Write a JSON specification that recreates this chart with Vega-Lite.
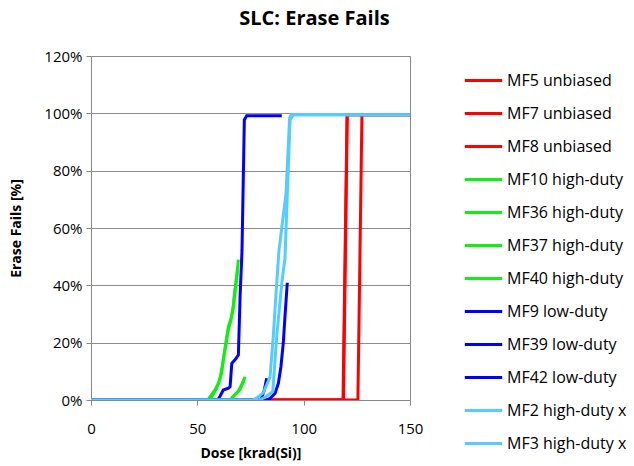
{
  "$schema": "https://vega.github.io/schema/vega-lite/v6.json",
  "width": 319,
  "height": 344,
  "autosize": {"type": "none"},
  "padding": {"left": 91, "top": 56, "right": 224, "bottom": 66},
  "background": "white",
  "title": {
    "text": "SLC: Erase  Fails",
    "font": "Open Sans",
    "fontSize": 20,
    "fontWeight": "bold",
    "color": "#000000",
    "anchor": "middle",
    "frame": "group",
    "dx": 64,
    "offset": 20
  },
  "data": {
    "values": [
      {"s": "MF5 unbiased", "d": 0, "p": 0}, {"s": "MF5 unbiased", "d": 118.5, "p": 0}, {"s": "MF5 unbiased", "d": 120.4, "p": 0.995}, {"s": "MF5 unbiased", "d": 150, "p": 0.995},
      {"s": "MF7 unbiased", "d": 0, "p": 0}, {"s": "MF7 unbiased", "d": 125.5, "p": 0}, {"s": "MF7 unbiased", "d": 127.4, "p": 0.995}, {"s": "MF7 unbiased", "d": 150, "p": 0.995},
      {"s": "MF8 unbiased", "d": 0, "p": 0}, {"s": "MF8 unbiased", "d": 118.7, "p": 0}, {"s": "MF8 unbiased", "d": 120.5, "p": 0.995}, {"s": "MF8 unbiased", "d": 150, "p": 0.995},
      {"s": "MF10 high-duty", "d": 0, "p": 0}, {"s": "MF10 high-duty", "d": 55, "p": 0}, {"s": "MF10 high-duty", "d": 56, "p": 0.012}, {"s": "MF10 high-duty", "d": 58.3, "p": 0.035}, {"s": "MF10 high-duty", "d": 59.9, "p": 0.058}, {"s": "MF10 high-duty", "d": 61.4, "p": 0.093}, {"s": "MF10 high-duty", "d": 62.2, "p": 0.14}, {"s": "MF10 high-duty", "d": 63.8, "p": 0.21}, {"s": "MF10 high-duty", "d": 64.6, "p": 0.256}, {"s": "MF10 high-duty", "d": 66.1, "p": 0.29}, {"s": "MF10 high-duty", "d": 66.9, "p": 0.325}, {"s": "MF10 high-duty", "d": 67.7, "p": 0.384}, {"s": "MF10 high-duty", "d": 68.5, "p": 0.43}, {"s": "MF10 high-duty", "d": 69.3, "p": 0.49},
      {"s": "MF36 high-duty", "d": 0, "p": 0}, {"s": "MF36 high-duty", "d": 56, "p": 0}, {"s": "MF36 high-duty", "d": 57, "p": 0.015}, {"s": "MF36 high-duty", "d": 59, "p": 0.04}, {"s": "MF36 high-duty", "d": 60.5, "p": 0.07}, {"s": "MF36 high-duty", "d": 61.8, "p": 0.12}, {"s": "MF36 high-duty", "d": 63, "p": 0.18}, {"s": "MF36 high-duty", "d": 64.2, "p": 0.235}, {"s": "MF36 high-duty", "d": 65.5, "p": 0.27}, {"s": "MF36 high-duty", "d": 66.6, "p": 0.31}, {"s": "MF36 high-duty", "d": 67.4, "p": 0.36}, {"s": "MF36 high-duty", "d": 68.2, "p": 0.41}, {"s": "MF36 high-duty", "d": 68.9, "p": 0.455},
      {"s": "MF37 high-duty", "d": 0, "p": 0}, {"s": "MF37 high-duty", "d": 66, "p": 0}, {"s": "MF37 high-duty", "d": 66.9, "p": 0.012}, {"s": "MF37 high-duty", "d": 70, "p": 0.035}, {"s": "MF37 high-duty", "d": 71.6, "p": 0.064}, {"s": "MF37 high-duty", "d": 72.4, "p": 0.081},
      {"s": "MF40 high-duty", "d": 0, "p": 0}, {"s": "MF40 high-duty", "d": 65.5, "p": 0}, {"s": "MF40 high-duty", "d": 66.5, "p": 0.01}, {"s": "MF40 high-duty", "d": 69.2, "p": 0.03}, {"s": "MF40 high-duty", "d": 71, "p": 0.055}, {"s": "MF40 high-duty", "d": 72, "p": 0.072},
      {"s": "MF9 low-duty", "d": 0, "p": 0}, {"s": "MF9 low-duty", "d": 59.5, "p": 0}, {"s": "MF9 low-duty", "d": 60.6, "p": 0.012}, {"s": "MF9 low-duty", "d": 62.2, "p": 0.035}, {"s": "MF9 low-duty", "d": 64.6, "p": 0.041}, {"s": "MF9 low-duty", "d": 65.4, "p": 0.046}, {"s": "MF9 low-duty", "d": 66.2, "p": 0.128}, {"s": "MF9 low-duty", "d": 67.7, "p": 0.14}, {"s": "MF9 low-duty", "d": 69.3, "p": 0.157}, {"s": "MF9 low-duty", "d": 70.1, "p": 0.36}, {"s": "MF9 low-duty", "d": 71, "p": 0.52}, {"s": "MF9 low-duty", "d": 72.1, "p": 0.977}, {"s": "MF9 low-duty", "d": 73.2, "p": 0.992}, {"s": "MF9 low-duty", "d": 89.7, "p": 0.992},
      {"s": "MF39 low-duty", "d": 0, "p": 0}, {"s": "MF39 low-duty", "d": 82.5, "p": 0}, {"s": "MF39 low-duty", "d": 84.2, "p": 0.006}, {"s": "MF39 low-duty", "d": 86.5, "p": 0.023}, {"s": "MF39 low-duty", "d": 88.1, "p": 0.058}, {"s": "MF39 low-duty", "d": 89.3, "p": 0.116}, {"s": "MF39 low-duty", "d": 90.4, "p": 0.198}, {"s": "MF39 low-duty", "d": 91.2, "p": 0.29}, {"s": "MF39 low-duty", "d": 92.3, "p": 0.409},
      {"s": "MF42 low-duty", "d": 0, "p": 0}, {"s": "MF42 low-duty", "d": 79.5, "p": 0}, {"s": "MF42 low-duty", "d": 80.2, "p": 0.006}, {"s": "MF42 low-duty", "d": 81.5, "p": 0.035}, {"s": "MF42 low-duty", "d": 82.6, "p": 0.076},
      {"s": "MF2 high-duty x", "d": 0, "p": 0}, {"s": "MF2 high-duty x", "d": 76, "p": 0}, {"s": "MF2 high-duty x", "d": 78, "p": 0.008}, {"s": "MF2 high-duty x", "d": 81, "p": 0.025}, {"s": "MF2 high-duty x", "d": 84.2, "p": 0.081}, {"s": "MF2 high-duty x", "d": 85.2, "p": 0.174}, {"s": "MF2 high-duty x", "d": 85.7, "p": 0.22}, {"s": "MF2 high-duty x", "d": 86.8, "p": 0.349}, {"s": "MF2 high-duty x", "d": 88.4, "p": 0.523}, {"s": "MF2 high-duty x", "d": 91.7, "p": 0.72}, {"s": "MF2 high-duty x", "d": 93.4, "p": 0.985}, {"s": "MF2 high-duty x", "d": 94.2, "p": 0.995}, {"s": "MF2 high-duty x", "d": 150, "p": 0.995},
      {"s": "MF3 high-duty x", "d": 0, "p": 0}, {"s": "MF3 high-duty x", "d": 79, "p": 0}, {"s": "MF3 high-duty x", "d": 82, "p": 0.01}, {"s": "MF3 high-duty x", "d": 85.5, "p": 0.03}, {"s": "MF3 high-duty x", "d": 87.3, "p": 0.22}, {"s": "MF3 high-duty x", "d": 89.7, "p": 0.407}, {"s": "MF3 high-duty x", "d": 91.2, "p": 0.494}, {"s": "MF3 high-duty x", "d": 93.6, "p": 0.977}, {"s": "MF3 high-duty x", "d": 95.1, "p": 0.995}, {"s": "MF3 high-duty x", "d": 150, "p": 0.995}
    ]
  },
  "mark": {"type": "line", "strokeWidth": 3, "strokeJoin": "miter", "clip": true},
  "encoding": {
    "x": {
      "field": "d", "type": "quantitative",
      "scale": {"domain": [0, 150], "nice": false, "zero": false},
      "axis": {
        "title": "Dose [krad(Si)]", "values": [0, 50, 100, 150], "grid": false, "labelFlush": false,
        "titleFont": "Open Sans", "titleFontSize": 14, "titleFontWeight": "bold", "titleColor": "#000", "titlePadding": 10,
        "labelFont": "Open Sans", "labelFontSize": 15, "labelColor": "#000", "labelPadding": 16,
        "domainColor": "#888888", "tickColor": "#888888", "tickSize": 5
      }
    },
    "y": {
      "field": "p", "type": "quantitative",
      "scale": {"domain": [0, 1.2], "nice": false},
      "axis": {
        "title": "Erase Fails [%]", "format": ".0%", "values": [0, 0.2, 0.4, 0.6, 0.8, 1.0, 1.2],
        "grid": true, "gridColor": "#8c8c8c", "gridWidth": 1, "labelFlush": false,
        "titleFont": "Open Sans", "titleFontSize": 14, "titleFontWeight": "bold", "titleColor": "#000", "titlePadding": 20,
        "labelFont": "Open Sans", "labelFontSize": 15, "labelColor": "#000", "labelPadding": 4,
        "domainColor": "#888888", "tickColor": "#888888", "tickSize": 5
      }
    },
    "color": {
      "field": "s", "type": "nominal",
      "sort": ["MF5 unbiased", "MF7 unbiased", "MF8 unbiased", "MF10 high-duty", "MF36 high-duty", "MF37 high-duty", "MF40 high-duty", "MF9 low-duty", "MF39 low-duty", "MF42 low-duty", "MF2 high-duty x", "MF3 high-duty x"],
      "scale": {
        "domain": ["MF5 unbiased", "MF7 unbiased", "MF8 unbiased", "MF10 high-duty", "MF36 high-duty", "MF37 high-duty", "MF40 high-duty", "MF9 low-duty", "MF39 low-duty", "MF42 low-duty", "MF2 high-duty x", "MF3 high-duty x"],
        "range": ["#ff0000", "#ff0000", "#ff0000", "#11ee11", "#11ee11", "#11ee11", "#11ee11", "#0000ff", "#0000ff", "#0000ff", "#55ccff", "#55ccff"]
      },
      "legend": {
        "title": null, "orient": "none", "legendX": 372, "legendY": 4,
        "symbolType": "stroke", "symbolSize": 1400, "symbolStrokeWidth": 3,
        "labelFont": "Open Sans", "labelFontSize": 16, "labelColor": "#000", "labelOffset": 3,
        "rowPadding": 4, "labelLimit": 200
      }
    },
    "order": {"field": "d", "type": "quantitative"}
  },
  "config": {
    "view": {"stroke": "#888888", "strokeWidth": 1}
  }
}
